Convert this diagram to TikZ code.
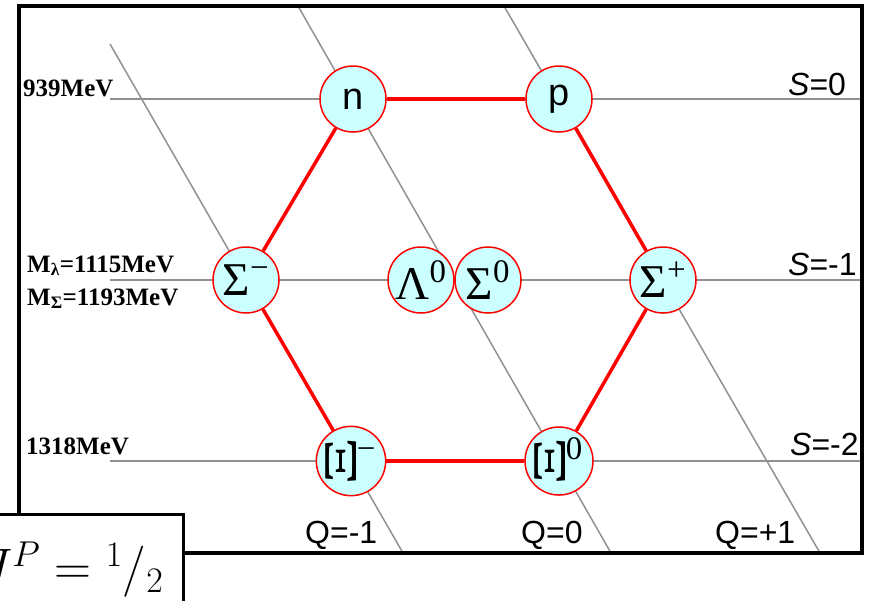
\RequirePackage{fix-cm}
\documentclass[tikz,border=0pt]{standalone}
\usepackage{fontspec}
\setmainfont{Liberation Serif}
\newfontfamily\arialfont{Liberation Sans}
\usepackage{xcolor}
\usepackage{tikz}
\usetikzlibrary{positioning}

\definecolor{baryonfill}{RGB}{204,255,255}
\definecolor{guidegray}{RGB}{145,145,145}

\newcommand{\sideXi}{\scalebox{1.0}[1.6]{\rotatebox{90}{Ξ}}}
\newcommand{\hisup}[1]{\textsuperscript{\raisebox{9pt}{#1}}}

\begin{document}
\begin{tikzpicture}[x=1pt, y=-1pt,
  baryon/.style={circle, draw=red, line width=1.5pt, fill=baryonfill,
    minimum size=66pt, inner sep=0pt, font=\fontsize{47}{47}\selectfont},
  nucleon/.style={baryon, font=\arialfont\fontsize{38}{38}\selectfont},
  guide/.style={draw=guidegray, line width=1.5pt},
  octet/.style={draw=red, line width=3.5pt},
  mass/.style={anchor=base west, inner sep=0pt,
    font=\bfseries\fontsize{25}{25}\selectfont},
  qnum/.style={anchor=base west, inner sep=0pt,
    font=\arialfont\fontsize{32}{32}\selectfont},
  jbox/.style={draw, fill=white, line width=3pt, minimum height=110pt,
    inner xsep=20pt, font=\fontsize{41}{41}\selectfont},
]
\useasboundingbox (0,0) rectangle (869,600);

% ends of the strangeness and charge lines
\coordinate (s0l) at (110,99);  \coordinate (s0r) at (860,99);
\coordinate (s1l) at (110,280); \coordinate (s1r) at (860,280);
\coordinate (s2l) at (110,461); \coordinate (s2r) at (860,461);
\coordinate (qml) at (110,44);  \coordinate (qmr) at (403,553);
\coordinate (qzl) at (298,6);   \coordinate (qzr) at (611,553);
\coordinate (qpl) at (504,6);   \coordinate (qpr) at (820,553);

\draw[guide] (s0l) -- (s0r);
\draw[guide] (s1l) -- (s1r);
\draw[guide] (s2l) -- (s2r);
\draw[guide] (qml) -- (qmr);
\draw[guide] (qzl) -- (qzr);
\draw[guide] (qpl) -- (qpr);

% baryon octet
\node[nucleon] (n) at (353,99) {n};
\node[nucleon] (p) at (559,99) {p};
\node[baryon] (Sm) at (246,280) {Σ\textsuperscript{−}};
\node[baryon] (L0) at (421,280) {Λ\textsuperscript{0}};
\node[baryon] (S0) at (488,280) {Σ\textsuperscript{0}};
\node[baryon] (Sp) at (663,280) {Σ\textsuperscript{+}};
\node[baryon] (Xim) at (351,461) {\sideXi\hisup{−}};
\node[baryon] (Xi0) at (559,461) {\sideXi\hisup{0}};

\draw[octet] (n) -- (p);
\draw[octet] (p) -- (Sp);
\draw[octet] (Sp) -- (Xi0);
\draw[octet] (Xi0) -- (Xim);
\draw[octet] (Xim) -- (Sm);
\draw[octet] (Sm) -- (n);

% masses
\node[mass] (m0) at (23,96) {939MeV};
\node[mass] (m1a) at (27,272) {M\textsubscript{λ}=1115MeV};
\node[mass] (m1b) at (27,305) {M\textsubscript{Σ}=1193MeV};
\node[mass] (m2) at (26,454) {1318MeV};

% quantum numbers
\node[qnum] (S0lab) at (788,95) {{\itshape S}=0};
\node[qnum] (S1lab) at (788,275) {{\itshape S}=-1};
\node[qnum] (S2lab) at (790,455) {{\itshape S}=-2};
\node[qnum] (Qm) at (305,543) {Q=-1};
\node[qnum] (Qz) at (521,543) {Q=0};
\node[qnum] (Qp) at (715,543) {Q=+1};

% frame
\draw[line width=4pt] (19,6) rectangle (862,553);
\node[jbox, anchor=north east] (jp) at (185,513)
  {\scalebox{1.25}{$J^P = {}^1/_2$}};
\end{tikzpicture}
\end{document}
